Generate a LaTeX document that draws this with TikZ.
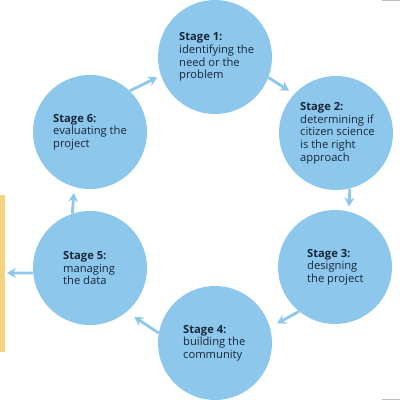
\documentclass[tikz,border=0pt]{standalone}
\usepackage{fontspec}
\setmainfont{Open Sans}
\usepackage{tikz}
\usetikzlibrary{arrows.meta}
\definecolor{stageblue}{HTML}{8DC8EC}
\definecolor{stageink}{HTML}{18263A}
\definecolor{baryellow}{HTML}{F6D47F}
\begin{document}
\begin{tikzpicture}[
		x=1pt, y=-1pt,
		stage/.style={
			circle,
			fill=stageblue,
			minimum size=114pt,
			inner sep=0pt
		},
		stagetext/.style={
			anchor=west,
			align=left,
			inner sep=0pt,
			color=stageink,
			font=\fontsize{11.2}{12.7}\selectfont
		},
		flow/.style={
			color=stageblue,
			line width=2.8pt,
			-{Stealth[length=9pt, width=10pt, inset=3pt]}
		}
	]
	\useasboundingbox (0,0) rectangle (400,400);

	% side bar and frame marks
	\fill[color=baryellow] (0,195) rectangle (5,352);
	\fill[color=gray!50] (382,0) rectangle (400,1.2);
	\fill[color=gray!50] (382,398.8) rectangle (400,400);

	% stages
	\foreach \n/\x/\y in {1/215/57, 2/336/133, 3/335/267, 4/215/343, 5/90/268, 6/90/132}{
		\node[stage] (s\n) at (\x,\y) {};
	}

	\node[stagetext] (t1) at ([xshift=-36pt]s1.center)
		{\textbf{Stage 1:}\\identifying the\\need or the\\problem};
	\node[stagetext] (t2) at ([xshift=-36pt]s2.center)
		{\textbf{Stage 2:}\\determining if\\citizen science\\is the right\\approach};
	\node[stagetext] (t3) at ([xshift=-28pt]s3.center)
		{\textbf{Stage 3:}\\designing\\the project};
	\node[stagetext] (t4) at ([xshift=-32pt]s4.center)
		{\textbf{Stage 4:}\\building the\\community};
	\node[stagetext] (t5) at ([xshift=-27pt]s5.center)
		{\textbf{Stage 5:}\\managing\\the data};
	\node[stagetext] (t6) at ([xshift=-37pt]s6.center)
		{\textbf{Stage 6:}\\evaluating the\\project};

	% cycle
	\foreach \a/\sa/\b/\sb/\gap in {
			s6/46/s1/199/4,
			s1/339/s2/137/6,
			s2/284/s3/76/5,
			s3/231/s4/16/8,
			s4/170/s5/310/9,
			s5/108/s6/254/6}{
		\draw[flow, shorten >=\gap pt] (\a.\sa) -- (\b.\sb);
	}

	\coordinate (exit) at (7,273);
	\draw[flow] (s5.185) -- (exit);
\end{tikzpicture}
\end{document}
